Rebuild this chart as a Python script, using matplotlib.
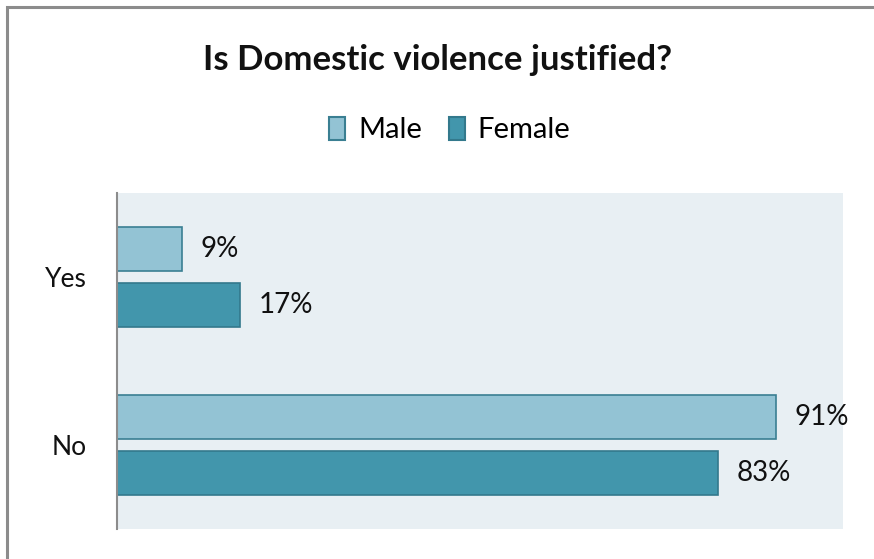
import matplotlib
matplotlib.use("Agg")
import matplotlib.pyplot as plt
from matplotlib.patches import Rectangle, Patch

categories = ["Yes", "No"]
male = [9, 91]
female = [17, 83]
series_names = ["Male", "Female"]

plt.rcParams['font.family'] = ['Lato', 'DejaVu Sans']

fig = plt.figure(figsize=(8.74, 5.59), dpi=100)
W, H = 874, 559

# outer chart frame
fig.patches.append(Rectangle((7 / W, -0.01), 1.2, (H - 7) / H + 0.01,
                             transform=fig.transFigure, fill=False,
                             edgecolor="#8c8c8c", linewidth=2.2))

ax = fig.add_axes([117 / W, 1 - 529 / H, (843 - 117) / W, (529 - 193) / H])
ax.set_facecolor("#E8EFF3")

male_color, female_color = "#93C3D4", "#4296AC"
edge_male, edge_female = "#3A7F92", "#33798C"
h = 0.26
off = 0.167
ys = list(range(len(categories)))
ax.barh([y - off for y in ys], male, height=h, color=male_color,
        edgecolor=edge_male, linewidth=1.2)
ax.barh([y + off for y in ys], female, height=h, color=female_color,
        edgecolor=edge_female, linewidth=1.2)

lbl_size = 20
for y, v in zip(ys, male):
    ax.text(v + 2.6, y - off, f"{v}%", va="center", ha="left", fontsize=lbl_size, color="#111111")
for y, v in zip(ys, female):
    ax.text(v + 2.6, y + off, f"{v}%", va="center", ha="left", fontsize=lbl_size, color="#111111")

ax.set_xlim(0, 100.3)
ax.set_ylim(1.5, -0.5)
ax.set_yticks(ys)
ax.set_yticklabels(categories, fontsize=19, color="#111111")
ax.tick_params(axis="y", length=0, pad=22)
ax.set_xticks([])
for s in ["top", "right", "bottom"]:
    ax.spines[s].set_visible(False)
ax.spines["left"].set_color("#8c8c8c")
ax.spines["left"].set_linewidth(1.5)

fig.text(438 / W, 1 - 60 / H, "Is Domestic violence justified?", ha="center", va="center",
         fontsize=25, fontweight="bold", color="#111111")

handles = [Patch(facecolor=male_color, edgecolor=edge_male, linewidth=1.5),
           Patch(facecolor=female_color, edgecolor=edge_female, linewidth=1.5)]
fig.legend(handles, series_names, loc="center", bbox_to_anchor=(450 / W, 1 - 130 / H),
           ncol=2, frameon=False, fontsize=21, handlelength=0.55, handleheight=0.85,
           handletextpad=0.45, columnspacing=0.9)

fig.savefig("out.png", dpi=100)
